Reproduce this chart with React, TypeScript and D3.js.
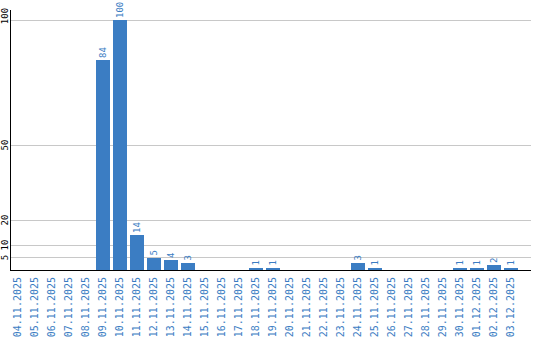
import React from "react";
import * as d3 from "d3";

const dates = [
  "04.11.2025","05.11.2025","06.11.2025","07.11.2025","08.11.2025","09.11.2025",
  "10.11.2025","11.11.2025","12.11.2025","13.11.2025","14.11.2025","15.11.2025",
  "16.11.2025","17.11.2025","18.11.2025","19.11.2025","20.11.2025","21.11.2025",
  "22.11.2025","23.11.2025","24.11.2025","25.11.2025","26.11.2025","27.11.2025",
  "28.11.2025","29.11.2025","30.11.2025","01.12.2025","02.12.2025","03.12.2025",
];
const values = [
  0,0,0,0,0,84,
  100,14,5,4,3,0,
  0,0,1,1,0,0,
  0,0,3,1,0,0,
  0,0,1,1,2,1,
];
const yTicks = [100, 50, 20, 10, 5];

const W = 540, H = 340;
const left = 11, top = 20, base = 270, gridRight = 531;
const barColor = "#3b7dc3";
const font = "'DejaVu Sans Mono', monospace";

export default function App() {
  const x = d3.scaleBand<string>().domain(dates).range([left, left + 507]).paddingInner(3 / 17).paddingOuter(0);
  const y = d3.scaleLinear().domain([0, 100]).range([base, top]);
  return (
    <svg width={W} height={H} style={{ position: "absolute", left: 0, top: 0, background: "#fff" }}>
      {yTicks.map((t) => (
        <g key={t}>
          <line x1={left} x2={gridRight} y1={y(t)} y2={y(t)} stroke="#c8c8c8" strokeWidth={1} shapeRendering="crispEdges" />
          <text
            transform={`translate(8,${y(t) - (t === 100 ? 4 : 0)}) rotate(-90)`}
            textAnchor="middle"
            fontFamily={font}
            fontSize={9}
            fill="#000"
          >{t}</text>
        </g>
      ))}
      {dates.map((d, i) => {
        const v = values[i];
        const cx = (x(d) as number) + x.bandwidth() / 2;
        return (
          <g key={d}>
            {v > 0 && (
              <rect x={x(d)} y={y(v)} width={x.bandwidth()} height={base - y(v)} fill={barColor} shapeRendering="crispEdges" />
            )}
            {v > 0 && (
              <text transform={`translate(${cx + 3},${y(v) - 2}) rotate(-90)`} textAnchor="start" fontFamily={font} fontSize={9} fill={barColor}>{v}</text>
            )}
            <text transform={`translate(${cx + 2.5},277) rotate(-90)`} textAnchor="end" fontFamily={font} fontSize={10} fill={barColor}>{d}</text>
          </g>
        );
      })}
      <line x1={left - 0.5} x2={left - 0.5} y1={10} y2={base} stroke="#000" strokeWidth={1} />
      <line x1={left - 1} x2={gridRight} y1={base + 0.5} y2={base + 0.5} stroke="#000" strokeWidth={1} />
    </svg>
  );
}
